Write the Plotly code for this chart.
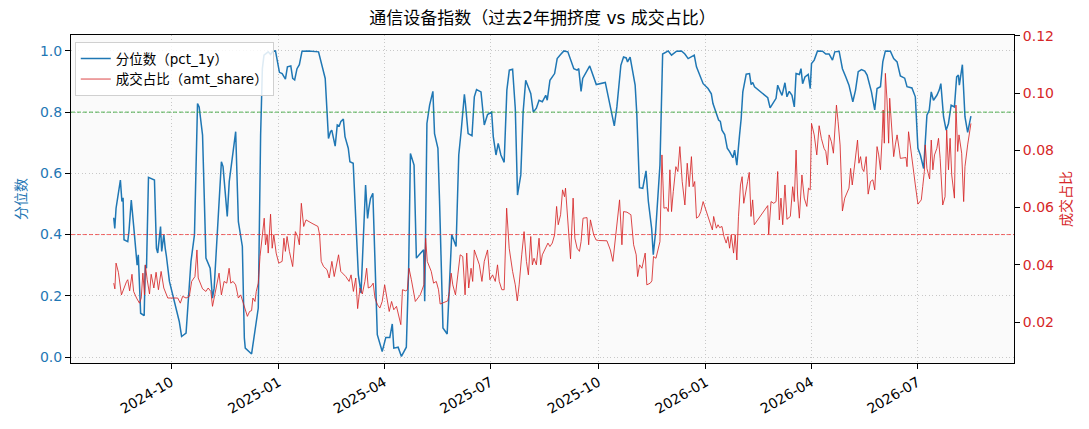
import pandas as pd
import plotly.graph_objects as go

START_DATE = "2024-08-13"
TITLE = "通信设备指数（过去2年拥挤度 vs 成交占比）"
PCT_NAME = "分位数（pct_1y）"
AMT_NAME = "成交占比（amt_share）"
THRESH_HIGH = 0.8
THRESH_LOW = 0.4
tick_dates = ["2024-10-01", "2025-01-01", "2025-04-01", "2025-07-01",
              "2025-10-01", "2026-01-01", "2026-04-01", "2026-07-01"]
tick_labels = ["2024-10", "2025-01", "2025-04", "2025-07",
               "2025-10", "2026-01", "2026-04", "2026-07"]
left_ticks = [0.0, 0.2, 0.4, 0.6, 0.8, 1.0]
right_ticks = [0.02, 0.04, 0.06, 0.08, 0.10, 0.12]

# days since START_DATE, and the 1y percentile values
pct_day = [0, 0.9, 2, 5.7, 7, 8, 8.8, 12, 13, 15, 17, 19.5, 20, 21, 23, 26, 27, 28, 29.7, 34.8,
           36.5, 37.6, 40, 41, 42.8, 44, 45, 47.6, 56, 58, 61.8, 66, 69, 71.6, 73, 75.9, 78.8, 82.4, 84.4, 85.8,
           92, 93.4, 97, 98.7, 104.2, 106.5, 109.9, 111.6, 112.4, 117.8, 123.5, 125.5, 127, 128.4, 130, 132, 134, 136, 138.2, 141.6,
           143.9, 146.7, 148.4, 151.3, 152.9, 154.6, 156.6, 158.6, 160.9, 166.5, 175, 177.9, 180.7, 183.5, 185.2, 186.3, 189.2, 191, 192.7, 194.1,
           196.2, 197.6, 200.4, 201.8, 204.6, 209, 211.3, 215.2, 216.9, 218, 219.4, 221.4, 223.2, 225.2, 229.4, 232.5, 235.9, 238, 239.3, 243,
           245.8, 248.7, 250, 252, 253.5, 256.6, 258.6, 262.3, 264.8, 265.7, 267.6, 269.9, 272.7, 274.1, 277, 278.4, 281.3, 284.9, 286.9, 288.8,
           292.5, 294.8, 296.8, 299.6, 300.5, 302.8, 306.1, 308.1, 310, 313.8, 316.6, 319.4, 322.9, 324.3, 326.6, 328.5, 330.8, 333.6, 335.9, 338,
           340.8, 343.1, 345, 347.8, 349.8, 352, 356.3, 358.5, 361.1, 363.4, 366.2, 369.1, 370.4, 372.7, 376.7, 378.9, 381.8, 384.6, 388, 390.3,
           393.1, 395.9, 397.3, 399.3, 400.7, 406.7, 412.3, 420, 424.3, 427.7, 429.9, 433.3, 435.6, 437.9, 439, 441.2, 445.5, 446.9, 449.2, 452,
           454.8, 456.8, 459.6, 461, 463, 465.3, 466.7, 469, 473.8, 476.6, 480.9, 485.1, 488, 490.8, 492.8, 496, 497.9, 500.7, 503.6, 507.8,
           510.6, 512, 514.9, 516.8, 518.3, 519.7, 522, 524.2, 526.2, 529, 530.5, 532.4, 534.7, 536.1, 537.5, 540.4, 543.2, 544.6, 546, 547.5,
           558.8, 560.8, 565.9, 567.3, 569.6, 571, 573.5, 575.2, 577.2, 579.5, 581.5, 583, 585.8, 587.2, 588.6, 590.6, 593.4, 595.1, 596.2, 598.5,
           601.3, 605.6, 608.4, 611.2, 614.1, 616.1, 619.8, 622.6, 625.5, 628.2, 631.5, 633.8, 636.1, 638.9, 641.7, 643.7, 647.4, 650.2, 652.2, 655.1,
           657.1, 659.3, 663.6, 666.4, 669.3, 672.1, 675.8, 677.8, 682, 684.9, 687.1, 689.2, 692, 693.4, 694.8, 696.8, 698.5, 700.4, 703.3, 705.3,
           706.7, 709, 711.2, 713.2, 715.5, 718.3, 720.2, 721.7, 722.5, 725.1, 727.3, 729.6, 732.4]
pct_1y = [0.455, 0.42, 0.486, 0.578, 0.508, 0.52, 0.383, 0.377, 0.41, 0.513, 0.43, 0.334, 0.30, 0.334, 0.143, 0.135, 0.30, 0.29, 0.587, 0.578,
          0.355, 0.34, 0.426, 0.345, 0.40, 0.355, 0.33, 0.247, 0.116, 0.067, 0.078, 0.312, 0.40, 0.828, 0.817, 0.725, 0.323, 0.29, 0.192, 0.225,
          0.638, 0.622, 0.459, 0.573, 0.736, 0.442, 0.361, 0.062, 0.029, 0.01, 0.16, 0.725, 0.942, 0.986, 0.99, 0.997, 0.988, 0.999, 1.0, 0.93,
          0.926, 0.908, 0.948, 0.951, 0.91, 0.905, 0.942, 0.955, 0.999, 1.0, 0.997, 0.953, 0.91, 0.714, 0.736, 0.741, 0.689, 0.758, 0.755, 0.77,
          0.777, 0.72, 0.682, 0.638, 0.633, 0.268, 0.209, 0.562, 0.453, 0.486, 0.518, 0.535, 0.29, 0.073, 0.018, 0.064, 0.064, 0.108, 0.029, 0.032,
          0.002, 0.024, 0.032, 0.29, 0.665, 0.627, 0.323, 0.34, 0.35, 0.182, 0.763, 0.823, 0.868, 0.73, 0.682, 0.508, 0.095, 0.075, 0.236, 0.40,
          0.361, 0.66, 0.736, 0.858, 0.828, 0.73, 0.723, 0.85, 0.874, 0.866, 0.758, 0.792, 0.80, 0.72, 0.66, 0.698, 0.66, 0.636, 0.872, 0.937,
          0.94, 0.812, 0.529, 0.595, 0.80, 0.904, 0.861, 0.80, 0.813, 0.839, 0.834, 0.855, 0.839, 0.904, 0.926, 0.975, 0.988, 1.0, 0.997, 0.97,
          0.942, 0.937, 0.942, 0.868, 0.91, 0.951, 0.89, 0.897, 0.823, 0.755, 0.817, 0.953, 0.98, 0.977, 0.964, 0.98, 0.888, 0.796, 0.553, 0.551,
          0.608, 0.508, 0.42, 0.334, 0.41, 0.567, 0.627, 0.99, 1.0, 0.986, 0.999, 1.0, 0.99, 0.975, 0.98, 0.986, 0.948, 0.92, 0.893, 0.877,
          0.86, 0.828, 0.796, 0.774, 0.77, 0.741, 0.727, 0.682, 0.671, 0.651, 0.676, 0.627, 0.725, 0.779, 0.866, 0.924, 0.926, 0.89, 0.897, 0.883,
          0.847, 0.814, 0.845, 0.888, 0.866, 0.855, 0.896, 0.85, 0.868, 0.855, 0.817, 0.926, 0.923, 0.942, 0.893, 0.915, 0.923, 0.877, 0.959, 0.97,
          1.0, 0.999, 0.99, 0.99, 0.97, 0.997, 0.999, 0.942, 0.915, 0.888, 0.834, 0.872, 0.932, 0.939, 0.934, 0.921, 0.866, 0.807, 0.877, 0.883,
          0.964, 1.0, 0.999, 0.975, 0.964, 0.918, 0.911, 0.883, 0.879, 0.85, 0.682, 0.66, 0.616, 0.725, 0.79, 0.807, 0.866, 0.839, 0.855, 0.872,
          0.893, 0.785, 0.741, 0.763, 0.823, 0.817, 0.915, 0.921, 0.888, 0.955, 0.785, 0.734, 0.787]

# days since START_DATE, and the turnover share values
amt_day = [0, 1, 2, 4, 6.6, 9, 11, 12, 13.6, 15.6, 17, 19.5, 22, 23.5, 24.9, 26.3, 27, 28.6, 30.6, 32,
           34.3, 36.2, 38.2, 40.5, 42.8, 46.2, 50.4, 54.7, 56.9, 58.9, 61.8, 64.6, 66.6, 69.4, 71.1, 72.2, 75.9, 78.8, 80.7, 83,
           84.4, 87.2, 90, 92, 94.3, 96.6, 98.6, 100, 102, 104.2, 106.5, 108.5, 110.5, 112.7, 114.2, 116.1, 117.8, 118.9, 120.7, 121.8,
           123.5, 125, 126.3, 127.5, 128.6, 129.7, 131.1, 132, 134, 135.4, 136.8, 138.8, 141, 143.9, 145.4, 146.7, 148.1, 150.1, 152.9, 155.2,
           157.2, 158.6, 160.3, 162.3, 164.3, 169.4, 174.5, 175.9, 177.3, 179.3, 182.2, 184.1, 186.4, 188.4, 189.8, 192.1, 194, 195.7, 198.3, 201.1,
           202.8, 204.8, 206.8, 208.4, 210.4, 212.4, 214.6, 216.1, 217.5, 219.8, 221.7, 223.2, 225.4, 227.4, 229.4, 231.5, 233.5, 235.4, 237.4, 239.3,
           241.6, 243.9, 245.3, 246.7, 249.5, 250.9, 252.3, 254.3, 257.7, 261.9, 265, 266.5, 267.9, 271.3, 273.3, 275.6, 277.5, 278.9, 282.6, 285.4,
           286.9, 288.3, 289.7, 292, 294, 296, 298.2, 300.2, 301.6, 303.3, 305.3, 306.7, 308.1, 310, 312.4, 314.6, 316.6, 319.4, 321.4, 323.7,
           326, 327.9, 329.4, 331.6, 333.6, 335.7, 337.9, 340.8, 343.1, 344.8, 346.4, 348.6, 350.6, 352.6, 354.3, 356.3, 357.7, 359.1, 361.1, 363.4,
           364.8, 366.2, 369.1, 371, 372.7, 374.7, 376.7, 378.4, 379.8, 381.8, 383.5, 385.2, 386, 387.4, 390.3, 392.5, 394, 395.9, 397.9, 399.3,
           401, 404.4, 405.8, 407.3, 410.1, 412.1, 414.3, 421.4, 424.3, 426.5, 428.5, 429.9, 432.2, 434.2, 435.6, 438.5, 441.9, 444.2, 446.4, 447.6,
           449.3, 451.3, 452.7, 454.1, 455.5, 458.4, 459.8, 461.2, 463.3, 465.3, 466.7, 468.4, 470.1, 472.4, 473.8, 475.2, 476.6, 478.1, 480.3, 482,
           483.7, 485.7, 488, 490, 491.7, 493.6, 495, 496.4, 497.9, 499.9, 501.6, 503.6, 505.5, 507.8, 510.1, 511.5, 512.6, 514.9, 516.3, 517.7,
           519.7, 521.4, 523.3, 524.8, 526.2, 527.6, 529.6, 531, 532.4, 533.8, 535.5, 536.9, 538.3, 540.4, 541.6, 543, 544.5, 545.9, 547.3, 558.8,
           559.6, 561.6, 563.9, 565.9, 567.3, 568.7, 570.1, 571.6, 573.5, 575.2, 578.1, 580.1, 581.5, 583, 584.3, 585.8, 588, 590, 592.2, 593.6,
           595.1, 596.2, 598.5, 600.7, 602.7, 604.6, 606.9, 608.4, 609.8, 611.2, 613.2, 614.9, 616.1, 617.5, 618.9, 620.6, 622.6, 624.6, 628.2, 629.6,
           631, 632.4, 633.8, 635.5, 636.7, 638.1, 639.5, 640.9, 642.9, 644.6, 646.6, 648.6, 650.2, 652.2, 653.6, 655.1, 656.5, 657.4, 658.4, 659.3,
           660.7, 662.1, 663, 664.4, 666.4, 667.8, 669.3, 671.2, 672.1, 676.9, 677.8, 679.1, 681.2, 683.5, 684.9, 687.1, 690, 691.2, 692.6, 693.4,
           694.8, 697.1, 698.5, 699.9, 701.3, 703.3, 704.7, 706.1, 708.3, 710.3, 711.7, 713.2, 714.6, 716, 718.3, 719.6, 721.1, 722.2, 724.5, 726.2,
           727.3, 729.6, 730.7, 732.4]
amt_share = [0.0336, 0.0316, 0.0406, 0.0374, 0.0295, 0.0324, 0.0342, 0.0348, 0.0309, 0.0367, 0.0307, 0.0284, 0.0266, 0.0284, 0.0371, 0.0295, 0.040, 0.0348, 0.0298, 0.0367,
             0.0319, 0.0374, 0.0313, 0.0377, 0.0319, 0.0284, 0.0284, 0.0284, 0.0266, 0.029, 0.0284, 0.029, 0.0342, 0.0359, 0.0452, 0.0354, 0.0316, 0.0307, 0.0319, 0.0307,
             0.0255, 0.0319, 0.0371, 0.0295, 0.0342, 0.0336, 0.0388, 0.0336, 0.0342, 0.033, 0.0284, 0.0295, 0.0266, 0.0243, 0.022, 0.0237, 0.024, 0.0284, 0.0272, 0.0307,
             0.0336, 0.0429, 0.047, 0.0516, 0.0563, 0.047, 0.0505, 0.0441, 0.0577, 0.0458, 0.0505, 0.0441, 0.0406, 0.0412, 0.0493, 0.0447, 0.0499, 0.0447, 0.0394, 0.0516,
             0.0499, 0.047, 0.0615, 0.0534, 0.0557, 0.0545, 0.0534, 0.0505, 0.0412, 0.0394, 0.0383, 0.0354, 0.0412, 0.0359, 0.0388, 0.0435, 0.0377, 0.0371, 0.0359, 0.0342,
             0.0365, 0.0307, 0.0354, 0.0247, 0.0319, 0.0298, 0.0342, 0.0388, 0.0319, 0.0324, 0.0336, 0.0284, 0.026, 0.0249, 0.0272, 0.033, 0.0284, 0.0237, 0.0272, 0.0243,
             0.0255, 0.0214, 0.0191, 0.0313, 0.0309, 0.0313, 0.0388, 0.0348, 0.0272, 0.0295, 0.033, 0.0493, 0.0412, 0.0377, 0.0336, 0.0342, 0.0313, 0.0263, 0.027, 0.0274,
             0.0307, 0.0371, 0.033, 0.0295, 0.0365, 0.0435, 0.0429, 0.0295, 0.0441, 0.0319, 0.0388, 0.0342, 0.0452, 0.0429, 0.04, 0.0342, 0.0412, 0.0452, 0.0348, 0.0365,
             0.0342, 0.04, 0.0342, 0.0313, 0.0313, 0.0598, 0.0458, 0.0377, 0.033, 0.0274, 0.033, 0.0435, 0.0516, 0.0412, 0.0365, 0.0499, 0.04, 0.0423, 0.04, 0.0493,
             0.04, 0.0435, 0.0458, 0.0476, 0.0464, 0.0476, 0.0505, 0.0604, 0.054, 0.0575, 0.0662, 0.0638, 0.0668, 0.0592, 0.0421, 0.0633, 0.0493, 0.0458, 0.0447, 0.0481,
             0.0563, 0.0565, 0.047, 0.0557, 0.0505, 0.0487, 0.0485, 0.0484, 0.0452, 0.0412, 0.0481, 0.0551, 0.0627, 0.047, 0.0586, 0.0584, 0.0575, 0.047, 0.0435, 0.0359,
             0.04, 0.0388, 0.0412, 0.0441, 0.033, 0.0336, 0.0344, 0.0429, 0.0423, 0.0458, 0.0481, 0.0784, 0.0598, 0.06, 0.0586, 0.0732, 0.0586, 0.0656, 0.0743, 0.0726,
             0.0813, 0.0691, 0.0609, 0.0755, 0.0673, 0.0778, 0.0673, 0.0691, 0.0563, 0.0569, 0.0586, 0.0621, 0.0598, 0.0569, 0.0534, 0.0522, 0.0569, 0.0528, 0.054, 0.053,
             0.0534, 0.0499, 0.0476, 0.0499, 0.0458, 0.0505, 0.0441, 0.0505, 0.0417, 0.0569, 0.0679, 0.0708, 0.0615, 0.0656, 0.0691, 0.0723, 0.0569, 0.0627, 0.054, 0.0607,
             0.0507, 0.0621, 0.0615, 0.0621, 0.0726, 0.0557, 0.0633, 0.054, 0.0679, 0.0559, 0.0569, 0.0673, 0.0621, 0.0801, 0.0644, 0.0563, 0.0714, 0.0633, 0.0604, 0.0668,
             0.0662, 0.0894, 0.0854, 0.0784, 0.0886, 0.0842, 0.0807, 0.0796, 0.0749, 0.0854, 0.083, 0.079, 0.0889, 0.0958, 0.09, 0.0819, 0.0588, 0.0633, 0.0668, 0.0737,
             0.0679, 0.0726, 0.0761, 0.0836, 0.0755, 0.0778, 0.0737, 0.0726, 0.0778, 0.0647, 0.0691, 0.0697, 0.0662, 0.0813, 0.0784, 0.0732, 0.0842, 0.0941, 0.0825, 0.1069,
             0.0976, 0.0825, 0.0982, 0.0889, 0.0778, 0.0819, 0.0854, 0.0801, 0.0772, 0.0775, 0.0743, 0.0865, 0.079, 0.0726, 0.0679, 0.0612, 0.0627, 0.0673, 0.0726, 0.0819,
             0.0737, 0.07, 0.0836, 0.0732, 0.0784, 0.0807, 0.0842, 0.0772, 0.0609, 0.0638, 0.0871, 0.0732, 0.0842, 0.0714, 0.0633, 0.0958, 0.0796, 0.0854, 0.079, 0.0621,
             0.0743, 0.0819, 0.0854, 0.0894]

start = pd.Timestamp(START_DATE)
pct_dates = start + pd.to_timedelta(pct_day, unit="D")
amt_dates = start + pd.to_timedelta(amt_day, unit="D")

BLUE = "#1f77b4"
RED = "#d62728"
FONT = "DejaVu Sans, Noto Sans CJK SC, sans-serif"
GRID = "#c8c8c8"

fig = go.Figure()
fig.add_trace(go.Scatter(x=pct_dates, y=pct_1y, mode="lines", name=PCT_NAME,
                         line=dict(color=BLUE, width=1.5), yaxis="y"))
fig.add_trace(go.Scatter(x=amt_dates, y=amt_share, mode="lines", name=AMT_NAME,
                         line=dict(color="rgba(214,39,40,0.85)", width=1.0), yaxis="y2"))

fig.add_hline(y=THRESH_HIGH, line=dict(color="rgba(44,160,44,0.8)", width=1, dash="4px,2px"), yref="y")
fig.add_hline(y=THRESH_LOW, line=dict(color="rgba(240,40,40,0.7)", width=1, dash="4px,2px"), yref="y")

x_lo = start + pd.Timedelta(days=-36.5)
x_hi = start + pd.Timedelta(days=769.2)

# the page body adds an 8px offset, so the figure is 8px smaller each way
W, H = 1081, 421
fig.update_layout(
    width=W, height=H,
    margin=dict(l=58, r=75, t=27, b=66),
    paper_bgcolor="white", plot_bgcolor="#fafafa",
    font=dict(family=FONT, size=14, color="black"),
    title=dict(text=TITLE, x=0.5, xref="paper", y=1 - 10.5 / H, yref="container",
               xanchor="center", yanchor="middle", font=dict(size=17, color="black")),
    showlegend=True,
    legend=dict(x=0.004, y=0.978, xanchor="left", yanchor="top",
                bgcolor="rgba(255,255,255,0.85)", bordercolor="#d0d0d0", borderwidth=1,
                font=dict(size=13.5), tracegroupgap=0, itemwidth=30),
    xaxis=dict(type="date", range=[x_lo, x_hi], tickvals=tick_dates, ticktext=tick_labels,
               tickangle=-30, ticks="outside", ticklen=5, tickcolor="black",
               showline=True, linecolor="black", linewidth=1, mirror=True,
               showgrid=True, gridcolor=GRID, griddash="1px,2.5px", gridwidth=1,
               zeroline=False, tickfont=dict(size=14, color="black")),
    yaxis=dict(range=[-0.0196, 1.052], tickvals=left_ticks, tickformat=".1f",
               ticks="outside", ticklen=5, tickcolor="black",
               showline=True, linecolor="black", linewidth=1,
               showgrid=True, gridcolor=GRID, griddash="1px,2.5px", gridwidth=1,
               zeroline=False, tickfont=dict(size=14, color=BLUE),
               title=dict(text="分位数", font=dict(size=14, color=BLUE), standoff=10)),
    yaxis2=dict(range=[0.0057, 0.1203], tickvals=right_ticks, tickformat=".2f",
                overlaying="y", side="right",
                ticks="outside", ticklen=5, tickcolor="black",
                showline=True, linecolor="black", linewidth=1,
                showgrid=False, zeroline=False, tickfont=dict(size=14, color=RED),
                title=dict(text="成交占比", font=dict(size=14, color=RED), standoff=8)),
)

fig.write_html("out.html")
